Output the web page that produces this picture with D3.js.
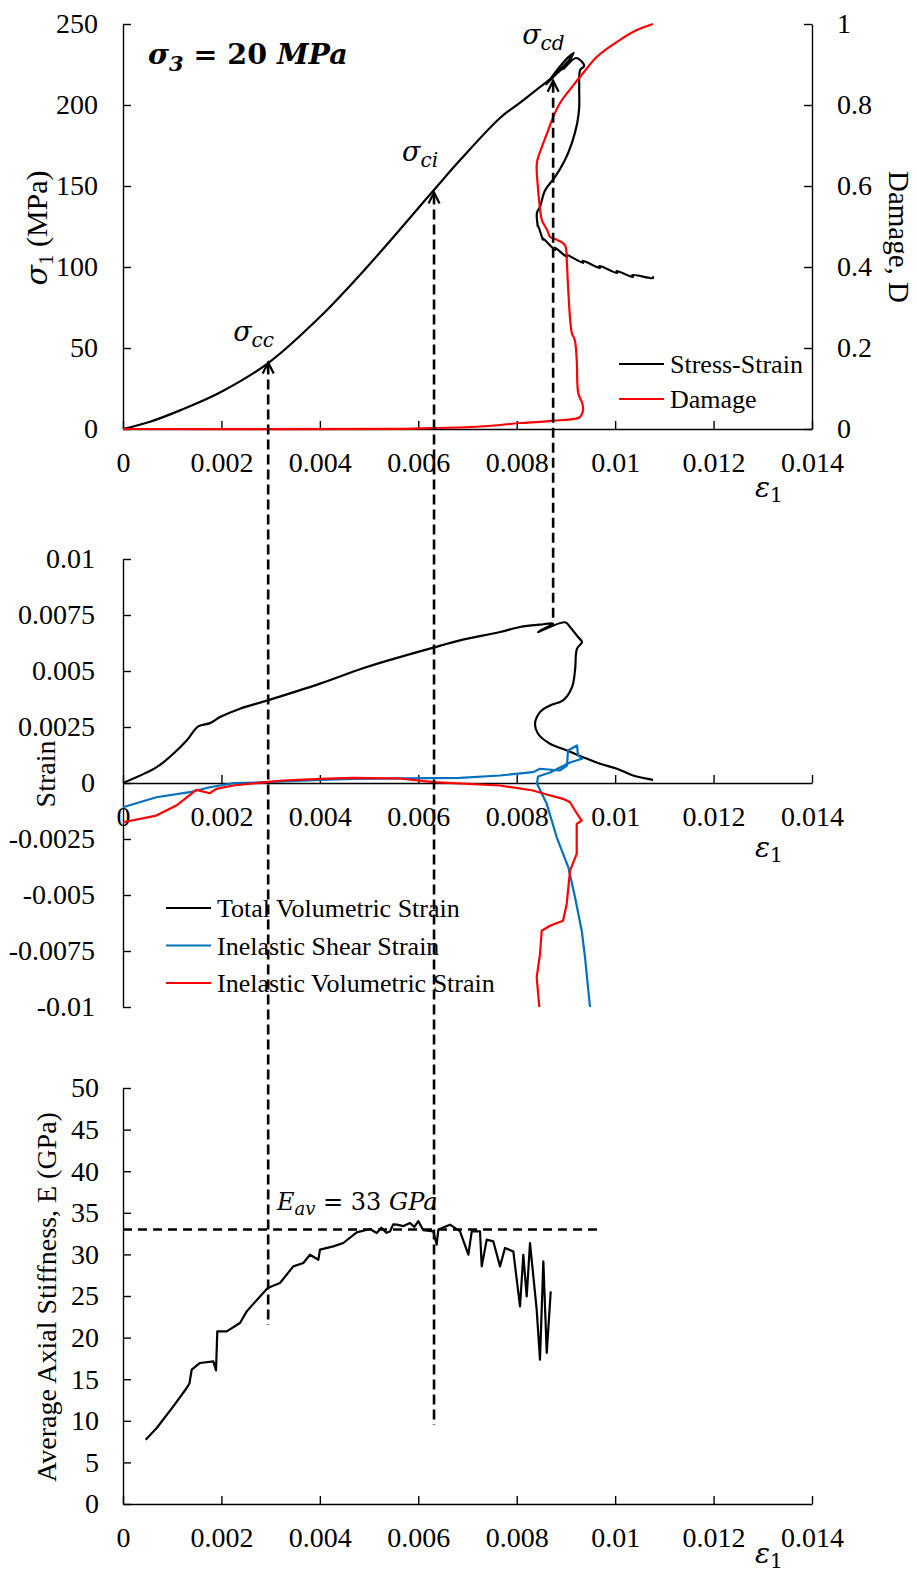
<!DOCTYPE html>
<html>
<head>
<meta charset="utf-8">
<script src="https://cdn.jsdelivr.net/npm/d3@7"></script>
<style>
  body { margin: 0; background: #fff; }
  text { font-family: "Liberation Serif", "Times New Roman", serif; fill: #000; }
  .math { font-family: "DejaVu Serif", serif; font-style: italic; }
</style>
</head>
<body>
<svg id="chart"></svg>
<script>
// ---- data (axial strain, value) ----
const stressStrain = [
  [0,0],[0.00055,4.5],[0.00116,11.5],[0.00197,22.5],[0.00295,40.7],[0.0040,69.1],[0.00496,100],
  [0.0063,146.9],[0.00685,166],[0.00766,192],[0.00807,201.5],[0.00847,211],[0.00874,217.5],
  [0.00894,223],[0.00912,229.5],[0.0086,212.5],[0.0090,228],[0.00916,232],[0.00894,222],
  [0.0092,229],[0.00933,226.5],[0.00937,224],[0.00929,221.6],[0.00927,211.1],[0.00927,198.8],
  [0.00923,188.9],[0.00912,176.5],[0.00898,166],[0.00878,155.6],[0.00858,147.5],[0.00847,137],
  [0.00841,133.3],[0.00843,124.7],[0.00842,127],[0.00853,116.7],[0.00852,118],[0.00878,110.5],
  [0.00877,112],[0.00902,106.2],[0.00901,107.5],[0.00935,102.5],[0.00934,103.8],[0.00969,99.4],
  [0.00968,100.6],[0.01004,96.3],[0.01003,97.5],[0.01036,93.8],[0.01035,95],[0.01077,93.2],[0.01076,94.3]
];
const damage = [
  [0,0],[0.0056,0.0005],[0.0060,0.0015],[0.00705,0.0049],[0.00766,0.0099],[0.00807,0.0148],
  [0.00847,0.0178],[0.00874,0.0205],[0.00918,0.025],[0.00929,0.030],[0.00935,0.047],[0.00933,0.064],
  [0.00925,0.089],[0.00922,0.170],[0.00918,0.220],[0.00912,0.237],[0.00904,0.360],[0.00902,0.410],
  [0.00898,0.454],[0.00882,0.467],[0.00868,0.474],[0.00862,0.491],[0.00851,0.516],[0.00847,0.548],
  [0.00843,0.598],[0.00841,0.657],[0.00851,0.696],[0.00862,0.731],[0.00874,0.770],[0.00888,0.805],
  [0.00912,0.844],[0.00935,0.879],[0.00963,0.919],[0.01004,0.956],[0.01044,0.985],[0.01077,1.0]
];
const totalVolStrain = [
  [0,0],[0.000685,0.000706],[0.001022,0.001305],[0.001294,0.0019],[0.00153,0.002526],
  [0.001768,0.002673],[0.001971,0.002942],[0.002377,0.003317],[0.00294,0.003688],[0.004003,0.004435],
  [0.004952,0.005177],[0.006305,0.006044],[0.006848,0.00637],[0.007661,0.006741],[0.008067,0.006965],
  [0.008473,0.007072],[0.008738,0.007117],[0.008433,0.006741],[0.008981,0.007175],[0.009083,0.006965],
  [0.009246,0.006518],[0.009327,0.006294],[0.009225,0.005999],[0.009185,0.005029],[0.009124,0.004282],
  [0.008941,0.003688],[0.008677,0.003464],[0.008473,0.003165],[0.008372,0.002646],[0.008433,0.002199],
  [0.008677,0.001752],[0.009022,0.001453],[0.009347,0.001153],[0.009693,0.000858],[0.010038,0.000635],
  [0.010363,0.000335],[0.01077,0.000143]
];
const shearStrain = [
  [0,-0.001082],[0.000677,-0.000635],[0.001355,-0.000411],[0.001762,-0.000188],[0.002235,-0.00001],
  [0.002912,0.000036],[0.003997,0.000143],[0.004674,0.000188],[0.006848,0.000232],[0.007661,0.000335],
  [0.008331,0.000483],[0.008473,0.000635],[0.00888,0.000559],[0.009022,0.000782],[0.009042,0.001453],
  [0.009225,0.001676],[0.009246,0.001229],[0.009327,0.001082],[0.009083,0.000916],[0.008677,0.000469],
  [0.008433,0.000291],[0.008412,-0.000022],[0.00861,-0.00093],[0.008813,-0.002423],[0.009049,-0.003764],
  [0.009185,-0.005105],[0.009321,-0.006594],[0.009388,-0.007787],[0.009489,-0.01]
];
const inelasticVolStrain = [
  [0,-0.001752],[0.000677,-0.001453],[0.001083,-0.001006],[0.001489,-0.000304],[0.001762,-0.000456],
  [0.001896,-0.000259],[0.002235,-0.000112],[0.002912,0.000036],[0.003251,0.000112],[0.003997,0.000188],
  [0.004674,0.000232],[0.005629,0.000201],[0.006305,0.000036],[0.007661,-0.000112],[0.008331,-0.000335],
  [0.00861,-0.000514],[0.008941,-0.000706],[0.009083,-0.000858],[0.009185,-0.001229],[0.009321,-0.001676],
  [0.009219,-0.001824],[0.009219,-0.003165],[0.009083,-0.003911],[0.009016,-0.0054],[0.008941,-0.006147],
  [0.008677,-0.006371],[0.008508,-0.006594],[0.008473,-0.007635],[0.008406,-0.008681],[0.008459,-0.01]
];
const stiffness = [
  [0.000461,7.73],[0.000685,9.13],[0.001022,11.73],[0.001294,13.94],[0.00135,14.5],[0.001396,16.14],
  [0.001565,16.95],[0.001835,17.14],[0.00189,16.06],[0.001916,20.75],[0.002107,20.75],[0.002377,21.75],
  [0.002514,23.15],[0.002784,24.95],[0.00294,25.96],[0.00319,26.56],[0.00346,28.56],[0.003664,28.97],
  [0.0038,29.96],[0.003969,29.36],[0.004003,30.57],[0.004273,30.96],[0.004476,31.37],[0.004749,32.64],
  [0.005019,33.05],[0.005155,32.57],[0.00525,33.2],[0.00535,32.6],[0.005425,32.76],[0.00549,33.6],
  [0.005562,33.57],[0.0057,33.4],[0.005832,33.77],[0.00592,33.3],[0.006,34.0],[0.006102,32.9],
  [0.006305,32.76],[0.006374,31.17],[0.006407,32.97],[0.00653,33.3],[0.006645,33.57],[0.006848,32.76],
  [0.007017,29.96],[0.007086,32.76],[0.007254,32.76],[0.007289,28.56],[0.00739,31.77],[0.007525,31.56],
  [0.007661,28.56],[0.007762,30.77],[0.007931,30.36],[0.008067,23.75],[0.008134,29.96],[0.008203,24.95],
  [0.00827,31.37],[0.008406,23.35],[0.008473,17.34],[0.008541,29.16],[0.00861,18.15],[0.008691,25.55]
];

// thresholds: crack closure, initiation, damage
const thresholdNames = ["cc", "ci", "cd"];
const thresholdStrain = [0.00295, 0.00632, 0.00874];
const thresholdStress = [41, 146, 215];
const averageStiffness = 33;
const averageLineEnd = 0.00963;

const xTicks = [0, 0.002, 0.004, 0.006, 0.008, 0.01, 0.012, 0.014];
const stressTicks = [0, 50, 100, 150, 200, 250];
const damageTicks = [0, 0.2, 0.4, 0.6, 0.8, 1];
const strainTicks = [-0.01, -0.0075, -0.005, -0.0025, 0, 0.0025, 0.005, 0.0075, 0.01];
const stiffTicks = [0, 5, 10, 15, 20, 25, 30, 35, 40, 45, 50];

// ---- layout ----
const W = 917, H = 1573;
const svg = d3.select("#chart").attr("width", W).attr("height", H);

const x = d3.scaleLinear().domain([0, 0.014]).range([123, 812]);
const yStress = d3.scaleLinear().domain([0, 250]).range([429, 24]);
const yDamage = d3.scaleLinear().domain([0, 1]).range([429, 24]);
const yStrain = d3.scaleLinear().domain([-0.01, 0.01]).range([1007, 559]);
const yStiff = d3.scaleLinear().domain([0, 50]).range([1504, 1088]);

const fmt = d => String(+d.toFixed(4));

function styleAxis(g) {
  g.attr("font-size", 28).attr("font-family", "Liberation Serif");
  g.selectAll("path, line").attr("stroke", "#000").attr("stroke-width", 1.4);
  g.selectAll("text").attr("fill", "#000");
}

function xAxisAt(yPos) {
  svg.append("g")
    .attr("transform", `translate(0,${yPos})`)
    .call(d3.axisBottom(x).tickValues(xTicks).tickFormat(fmt)
      .tickSize(-8).tickSizeOuter(0).tickPadding(23))
    .call(styleAxis);
}

function yAxis(scale, ticks, pad) {
  svg.append("g")
    .attr("transform", `translate(${x(0)},0)`)
    .call(d3.axisLeft(scale).tickValues(ticks).tickFormat(fmt)
      .tickSize(-8).tickSizeOuter(0).tickPadding(pad))
    .call(styleAxis);
}

// axes
xAxisAt(yStress(0));
yAxis(yStress, stressTicks, 25);
svg.append("g")
  .attr("transform", `translate(${x(0.014)},0)`)
  .call(d3.axisRight(yDamage).tickValues(damageTicks).tickFormat(fmt)
    .tickSize(-8).tickSizeOuter(0).tickPadding(25))
  .call(styleAxis);

xAxisAt(yStrain(0));
yAxis(yStrain, strainTicks, 28);

xAxisAt(yStiff(0));
yAxis(yStiff, stiffTicks, 24);

// curves
function drawLine(data, yScale, color, width, curve) {
  svg.append("path")
    .datum(data)
    .attr("fill", "none")
    .attr("stroke", color)
    .attr("stroke-width", width)
    .attr("stroke-linejoin", "round")
    .attr("d", d3.line().curve(curve || d3.curveLinear)
      .x(d => x(d[0])).y(d => yScale(d[1])));
}
const smooth = d3.curveCatmullRom.alpha(0.5);

drawLine(stressStrain, yStress, "#000", 2.2, smooth);
drawLine(damage, yDamage, "#ff0000", 2.2, smooth);

drawLine(totalVolStrain, yStrain, "#000", 2.2, smooth);
drawLine(shearStrain, yStrain, "#0070c0", 2.2);
drawLine(inelasticVolStrain, yStrain, "#ff0000", 2.2);

drawLine(stiffness, yStiff, "#000", 2.2);

// legends
function legend(items, x0, y0, gap) {
  const g = svg.append("g").attr("transform", `translate(${x0},${y0})`);
  const row = g.selectAll("g").data(items).enter().append("g")
    .attr("transform", (d, i) => `translate(0,${i * gap})`);
  row.append("line").attr("x1", 0).attr("x2", 45)
    .attr("stroke", d => d[1]).attr("stroke-width", 2);
  row.append("text").attr("x", 51).attr("y", 9).attr("font-size", 26).text(d => d[0]);
}
legend([["Stress-Strain", "#000"], ["Damage", "#ff0000"]], 619, 364, 35);
legend([["Total Volumetric Strain", "#000"], ["Inelastic Shear Strain", "#0070c0"],
        ["Inelastic Volumetric Strain", "#ff0000"]], 166, 908, 37.5);

// threshold dashed lines with arrows
const dash = "10,5";
const thresholdEnds = [yStiff(21.5), yStiff(9.5), yStrain(0.00735)];
const labelOffsets = [[-35, -22], [-32, -31], [-31, -37]];
thresholdNames.forEach((name, i) => {
  const px = x(thresholdStrain[i]);
  const tip = yStress(thresholdStress[i]);
  svg.append("line")
    .attr("x1", px).attr("x2", px).attr("y1", tip + 2).attr("y2", thresholdEnds[i])
    .attr("stroke", "#000").attr("stroke-width", 2.6).attr("stroke-dasharray", dash);
  svg.append("path")
    .attr("d", `M${px - 5.5},${tip + 11}L${px},${tip}L${px + 5.5},${tip + 11}`)
    .attr("fill", "none").attr("stroke", "#000").attr("stroke-width", 2.2);
  const t = svg.append("text").attr("class", "math")
    .attr("x", px + labelOffsets[i][0]).attr("y", tip + labelOffsets[i][1])
    .attr("font-size", 27);
  t.append("tspan").text("σ");
  t.append("tspan").attr("font-size", 20).attr("dy", 6).text(name);
});

// average stiffness line
svg.append("line")
  .attr("x1", x(0)).attr("x2", x(averageLineEnd))
  .attr("y1", yStiff(averageStiffness)).attr("y2", yStiff(averageStiffness))
  .attr("stroke", "#000").attr("stroke-width", 2.6).attr("stroke-dasharray", "9,6");
const eav = svg.append("text").attr("class", "math")
  .attr("x", 277).attr("y", yStiff(averageStiffness) - 19).attr("font-size", 24);
eav.append("tspan").text("E");
eav.append("tspan").attr("font-size", 18).attr("dy", 5).text("av");
eav.append("tspan").attr("dy", -5).text(" = 33 ").attr("font-style", "normal");
eav.append("tspan").text("GPa");

// title
const title = svg.append("text").attr("class", "math")
  .attr("x", 148).attr("y", 64).attr("font-size", 28.5).attr("font-weight", "bold");
title.append("tspan").text("σ");
title.append("tspan").attr("font-size", 21).attr("dy", 7).text("3");
title.append("tspan").attr("dy", -7).attr("font-style", "normal").text(" = 20 ");
title.append("tspan").text("MPa");

// axis titles
function eps(xp, yp) {
  const t = svg.append("text").attr("class", "math").attr("x", xp).attr("y", yp).attr("font-size", 28);
  t.append("tspan").text("ε");
  t.append("tspan").attr("font-size", 20).attr("dy", 5).attr("font-style", "normal").text("1");
}
eps(755, 497);
eps(755, 857);
eps(755, 1563);

const s1 = svg.append("text").attr("transform", "translate(47,228) rotate(-90)")
  .attr("text-anchor", "middle").attr("font-size", 30);
s1.append("tspan").attr("class", "math").text("σ");
s1.append("tspan").attr("font-size", 21).attr("dy", 6).text("1");
s1.append("tspan").attr("dy", -6).text(" (MPa)");

svg.append("text").attr("transform", "translate(889,237) rotate(90)")
  .attr("text-anchor", "middle").attr("font-size", 29).text("Damage, D");

svg.append("text").attr("transform", "translate(55,774) rotate(-90)")
  .attr("text-anchor", "middle").attr("font-size", 28).text("Strain");

svg.append("text").attr("transform", "translate(56,1297) rotate(-90)")
  .attr("text-anchor", "middle").attr("font-size", 28).text("Average Axial Stiffness, E (GPa)");
</script>
</body>
</html>
